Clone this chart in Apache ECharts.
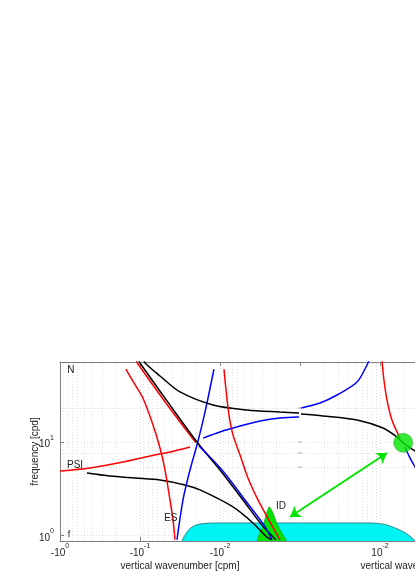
<!DOCTYPE html>
<html>
<head>
<meta charset="utf-8">
<script src="https://cdn.jsdelivr.net/npm/echarts@6/dist/echarts.min.js"></script>
<style>
  html, body { margin: 0; padding: 0; background: #fff; }
  #chart { width: 415px; height: 588px; }
</style>
</head>
<body>
<div id="chart"></div>
<script>
// vertical wavenumber m [cpm] (negative = left panel), frequency [cpd]
var esRed = [[-0.150, 60], [-0.119, 42.8], [-0.0917, 29.4], [-0.0688, 15.2], [-0.0562, 8.63], [-0.0487, 5.04], [-0.0422, 2.41], [-0.0387, 1.48], [-0.0365, 0.90]];
var esBlue = [[-0.0345, 0.90], [-0.0290, 2.41], [-0.0237, 5.04], [-0.0194, 9.29], [-0.0154, 20.9], [-0.0119, 60]];
var diagBlack = [[-0.104, 75], [-0.100, 70], [-0.046, 27.5], [-0.0194, 10.0], [-0.0100, 5.02], [-0.00516, 2.40], [-0.00299, 1.29], [-0.00200, 0.90]];
var diagRed = [[-0.112, 75], [-0.108, 70], [-0.050, 27.8], [-0.0215, 10.6], [-0.0200, 9.9]];
var diagBlue = [[-0.0183, 9.06], [-0.00944, 5.02], [-0.00487, 2.40], [-0.00282, 1.29], [-0.00224, 0.90]];
var upperBlackL = [[-0.089, 75], [-0.0866, 70], [-0.0562, 50.8], [-0.0316, 34.3], [-0.01224, 24.9], [-0.0046, 22.0], [-0.00178, 20.9], [-0.00103, 20.4]];
var upperBlueL = [[-0.0163, 11.0], [-0.0100, 12.8], [-0.00562, 14.8], [-0.00316, 16.8], [-0.00178, 18.1], [-0.00103, 18.5]];
var midRed = [[-0.00891, 60], [-0.00841, 36.0], [-0.00772, 19.4], [-0.00688, 11.9], [-0.00562, 7.26], [-0.00447, 4.12], [-0.00335, 2.40], [-0.00237, 1.39], [-0.00178, 0.90]];
var lowerBlack = [[-0.46, 4.66], [-0.237, 4.33], [-0.1155, 4.12], [-0.0562, 3.92], [-0.0274, 3.47], [-0.0178, 3.07], [-0.00688, 2.02], [-0.00387, 1.36], [-0.00259, 0.96], [-0.00224, 0.90]];
var psiRed = [[-1.0, 4.90], [-0.422, 5.27], [-0.163, 6.11], [-0.075, 7.08], [-0.0422, 7.82], [-0.0237, 8.84]];

var upperBlackR = [[0.00103, 19.9], [0.00194, 19.0], [0.00516, 17.2], [0.0109, 14.1], [0.0163, 11.3], [0.0194, 9.76], [0.0274, 8.01], [0.036, 6.6]];
var upperBlueR = [[0.00103, 23.1], [0.00178, 26.1], [0.0029, 31.8], [0.00516, 43.8], [0.00688, 66.6], [0.0073, 75]];
var rightRed = [[0.0106, 75], [0.0112, 46.0], [0.01224, 28.1], [0.0141, 17.2], [0.0178, 11.0]];
var rightBlue = [[0.0205, 8.84], [0.0237, 6.75], [0.0274, 5.40], [0.036, 3.46]];
var idPoint = [[0.0195, 9.8]];

// shaded regions
var cyanL = [[-0.0299, 0.873], [-0.0274, 1.01], [-0.0244, 1.16], [-0.0205, 1.28], [-0.0163, 1.34], [-0.01155, 1.36], [-0.001, 1.36]];
var cyanR = [[0.001, 1.36], [0.00752, 1.36], [0.0115, 1.31], [0.0167, 1.17], [0.0217, 1.04], [0.0259, 0.92], [0.028, 0.873]];
var idBump = [[-0.00345, 0.873], [-0.00316, 1.09], [-0.0029, 1.24], [-0.00261, 1.74], [-0.00242, 2.03], [-0.00218, 1.74], [-0.00196, 1.36], [-0.00169, 1.06], [-0.00147, 0.873]];

// double arrow, split where it crosses from one panel to the other
var arrowL = [[-0.00133, 1.58], [-0.001, 1.86]];
var arrowR = [[0.001, 1.86], [0.01224, 7.63]];

// text notes: label, m, frequency
var notesL = [['N', -0.729, 58.9], ['PSI', -0.649, 5.68], ['ES', -0.0412, 1.53], ['ID', -0.00173, 2.04], ['f', -0.772, 1.03]];

// grid lines
var minorM = [0.002, 0.003, 0.004, 0.005, 0.006, 0.007, 0.008, 0.009,
              0.02, 0.03, 0.04, 0.05, 0.06, 0.07, 0.08, 0.09,
              0.2, 0.3, 0.4, 0.5, 0.6, 0.7, 0.8, 0.9];
var freqGrid = [5.4, 7.63, 23.1];
var rightTicks = [5.4, 7.63, 10, 23.1];

var Y_MIN = 0.873, Y_MAX = 71.7;
var FONT = '"Liberation Sans", Arial, Helvetica, sans-serif';
var TXT = '#222222';
var FRAME = '#7f7f7f';
var GRIDC = '#e0e0e0';
var GREEN = '#00e600';

function leftPts(pts) { return pts.map(function (p) { return [-p[0], p[1]]; }); }

function powFmt(sign, minExp) {
  return function (v) {
    var e = Math.log10(v), r = Math.round(e);
    if (Math.abs(e - r) > 0.01 || r < minExp) return '';
    return '{b|' + sign + '10}{s|' + r + '}';
  };
}

var supRich = {
  b: { fontSize: 10, fontFamily: FONT, color: TXT, lineHeight: 15, verticalAlign: 'bottom' },
  s: { fontSize: 7, fontFamily: FONT, color: TXT, lineHeight: 9, verticalAlign: 'top' }
};
var nameStyle = { fontSize: 10, fontFamily: FONT, color: TXT };

function xAxisDef(grid, inverse, top, sign, name) {
  return {
    type: 'log', logBase: 10, gridIndex: grid, min: 0.001, max: 1, inverse: inverse,
    position: top ? 'top' : 'bottom',
    axisLine: { show: true, lineStyle: { color: FRAME, width: 1 } },
    axisTick: { show: true, inside: true, length: 4, lineStyle: { color: FRAME } },
    axisLabel: top ? { show: false } : {
      formatter: powFmt(sign, -2), margin: 2, rich: supRich,
      showMinLabel: true, showMaxLabel: true
    },
    splitLine: top ? { show: false } : {
      show: true, showMinLine: false, showMaxLine: false,
      lineStyle: { color: GRIDC, width: 1, type: [1, 2] }
    },
    name: top ? '' : name, nameLocation: 'middle', nameGap: 20, nameMoveOverlap: false,
    nameTextStyle: nameStyle
  };
}

function curve(pts, color, panel) {
  return {
    type: 'line', xAxisIndex: panel === 0 ? 0 : 2, yAxisIndex: panel,
    data: panel === 0 ? leftPts(pts) : pts,
    showSymbol: false, symbol: 'none', smooth: 0.3, z: 4, silent: true,
    lineStyle: { color: color, width: 1.5 }
  };
}

function gridLines() {
  return {
    silent: true, precision: 6, z: 1, symbol: 'none', animation: false,
    label: { show: false },
    lineStyle: { color: GRIDC, width: 1, type: [1, 2] },
    data: minorM.map(function (v) { return { xAxis: v }; })
      .concat(freqGrid.map(function (v) { return { yAxis: v }; }))
  };
}

function arrowLine(pts, symbols) {
  return {
    silent: true, precision: 6, z: 6, symbol: symbols, symbolSize: 10, animation: false,
    label: { show: false },
    lineStyle: { color: GREEN, width: 2, type: 'solid' },
    itemStyle: { color: GREEN },
    data: [[{ coord: pts[0] }, { coord: pts[1] }]]
  };
}

var chart = echarts.init(document.getElementById('chart'));

chart.setOption({
  animation: false,
  backgroundColor: '#ffffff',
  grid: [
    { left: 60, top: 362, width: 240, height: 179, containLabel: false, outerBoundsMode: 'none' },
    { left: 300, top: 362, width: 240, height: 179, containLabel: false, outerBoundsMode: 'none' }
  ],
  xAxis: [
    xAxisDef(0, true, false, '-', 'vertical wavenumber [cpm]'),
    xAxisDef(0, true, true, '-', ''),
    xAxisDef(1, false, false, '', 'vertical wavenumber [cpm]'),
    xAxisDef(1, false, true, '', '')
  ],
  yAxis: [
    {
      type: 'log', logBase: 10, gridIndex: 0, min: Y_MIN, max: Y_MAX,
      axisLine: { show: true, lineStyle: { color: FRAME, width: 1 } },
      axisTick: { show: true, inside: true, length: 4, lineStyle: { color: FRAME } },
      axisLabel: { formatter: powFmt('', -9), margin: 6, rich: supRich },
      splitLine: { show: true, lineStyle: { color: GRIDC, width: 1, type: [1, 2] } },
      name: 'frequency [cpd]', nameLocation: 'middle', nameGap: 20, nameRotate: 90,
      nameMoveOverlap: false, nameTextStyle: nameStyle
    },
    {
      type: 'log', logBase: 10, gridIndex: 1, min: Y_MIN, max: Y_MAX,
      axisLine: { show: false }, axisTick: { show: false }, axisLabel: { show: false },
      splitLine: { show: true, lineStyle: { color: GRIDC, width: 1, type: [1, 2] } }
    }
  ],
  series: [
    {
      type: 'line', xAxisIndex: 0, yAxisIndex: 0, data: leftPts(cyanL), z: 2, silent: true,
      showSymbol: false, symbol: 'none', smooth: 0.3,
      lineStyle: { color: '#2f8c8c', width: 1 },
      areaStyle: { color: '#00f4f4', opacity: 1, origin: 'start' },
      markLine: gridLines()
    },
    {
      type: 'line', xAxisIndex: 2, yAxisIndex: 1, data: cyanR, z: 2, silent: true,
      showSymbol: false, symbol: 'none', smooth: 0.3,
      lineStyle: { color: '#2f8c8c', width: 1 },
      areaStyle: { color: '#00f4f4', opacity: 1, origin: 'start' },
      markLine: gridLines()
    },
    {
      type: 'line', xAxisIndex: 0, yAxisIndex: 0, data: leftPts(idBump), z: 3, silent: true,
      showSymbol: false, symbol: 'none', smooth: 0.2,
      lineStyle: { color: '#1c9c1c', width: 0.8 },
      areaStyle: { color: GREEN, opacity: 1, origin: 'start' },
      markLine: arrowLine(leftPts(arrowL), ['arrow', 'none'])
    },
    curve(psiRed, '#ff0000', 0),
    curve(lowerBlack, '#000000', 0),
    curve(esRed, '#ff0000', 0),
    curve(esBlue, '#0000ff', 0),
    curve(diagRed, '#ff0000', 0),
    curve(diagBlack, '#000000', 0),
    curve(diagBlue, '#0000ff', 0),
    curve(upperBlackL, '#000000', 0),
    curve(upperBlueL, '#0000ff', 0),
    curve(midRed, '#ff0000', 0),
    curve(upperBlackR, '#000000', 1),
    curve(upperBlueR, '#0000ff', 1),
    curve(rightRed, '#ff0000', 1),
    curve(rightBlue, '#0000ff', 1),
    {
      type: 'scatter', xAxisIndex: 2, yAxisIndex: 1, data: idPoint, z: 5, silent: true,
      symbolSize: 19, itemStyle: { color: GREEN, borderColor: '#2a9a2a', borderWidth: 0.6 },
      markLine: arrowLine(arrowR, ['none', 'arrow'])
    },
    {
      type: 'scatter', xAxisIndex: 2, yAxisIndex: 1, z: 5, silent: true, clip: false,
      data: rightTicks.map(function (f) { return [0.001, f]; }),
      symbol: 'rect', symbolSize: [4, 1], itemStyle: { color: '#9a9a9a' }
    },
    {
      type: 'scatter', xAxisIndex: 0, yAxisIndex: 0, z: 6, silent: true, clip: false,
      symbolSize: 0, itemStyle: { color: TXT, opacity: 1 },
      data: notesL.map(function (n) {
        return { name: n[0], value: [-n[1], n[2]], label: { fontSize: n[0] === 'f' ? 9 : 10 } };
      }),
      label: {
        show: true, position: 'inside', formatter: '{b}', opacity: 1,
        color: TXT, fontFamily: FONT, fontSize: 10, textBorderWidth: 0
      }
    }
  ]
});
</script>
</body>
</html>
